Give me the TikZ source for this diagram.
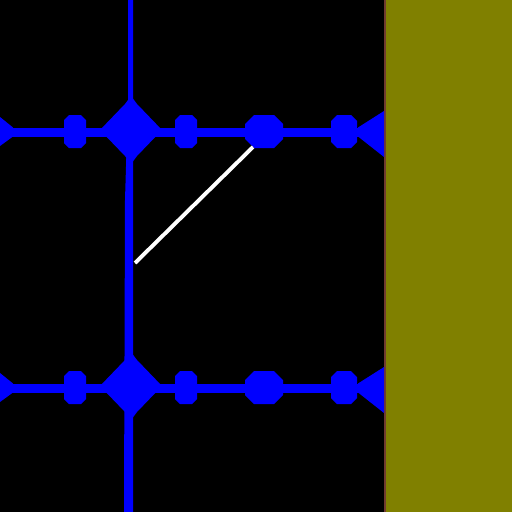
\documentclass[tikz,border=0pt]{standalone}
\usepackage{amsmath}
\usepackage{tikz}
\definecolor{wallface}{RGB}{128,128,0}
\definecolor{walledge}{RGB}{112,58,48}

\begin{document}
\begin{tikzpicture}[x=0.01cm, y=-0.01cm]
	\useasboundingbox (0,0) rectangle (512,512);
	\fill [black] (0,0) rectangle (512,512);
	\fill [wallface] (385,0) rectangle (512,512);
	\fill [walledge] (383.5,0) rectangle (385.5,512);
	\fill [blue] (128,0) -- (133,0) -- (133,512) -- (124,512) -- (125,200) -- (128,100) -- cycle;
	\foreach \y in {132,388} {
		\fill [blue] (0,\y-4.5) rectangle (384,\y+4.5);
		\fill [blue] (0,\y-15) -- (13,\y-4.5) -- (13,\y+4.5) -- (0,\y+14) -- cycle;
		\fill [blue] (358,\y-4.5) -- (384,\y-21) -- (384,\y+25) -- (358,\y+4.5) -- cycle;
		\fill [blue] (100,\y-2) -- (125,\y-28) -- (131,\y-36) -- (137,\y-28) -- (162,\y-2) -- (137,\y+24) -- (131,\y+32) -- (125,\y+24) -- cycle;
		\foreach \x/\w/\c in {75/11/5, 186/11/5, 264/19/9, 344/13/6}
			\fill [blue] (\x-\w,\y-17+\c) -- (\x-\w+\c,\y-17) -- (\x+\w-\c,\y-17) -- (\x+\w,\y-17+\c) -- (\x+\w,\y+16-\c) -- (\x+\w-\c,\y+16) -- (\x-\w+\c,\y+16) -- (\x-\w,\y+16-\c) -- cycle;
	}
	\coordinate (ray start) at (135,263);
	\coordinate (ray end) at (253,147);
	\draw [white, line width=1.1pt] (ray start) -- (ray end);
\end{tikzpicture}
\end{document}
